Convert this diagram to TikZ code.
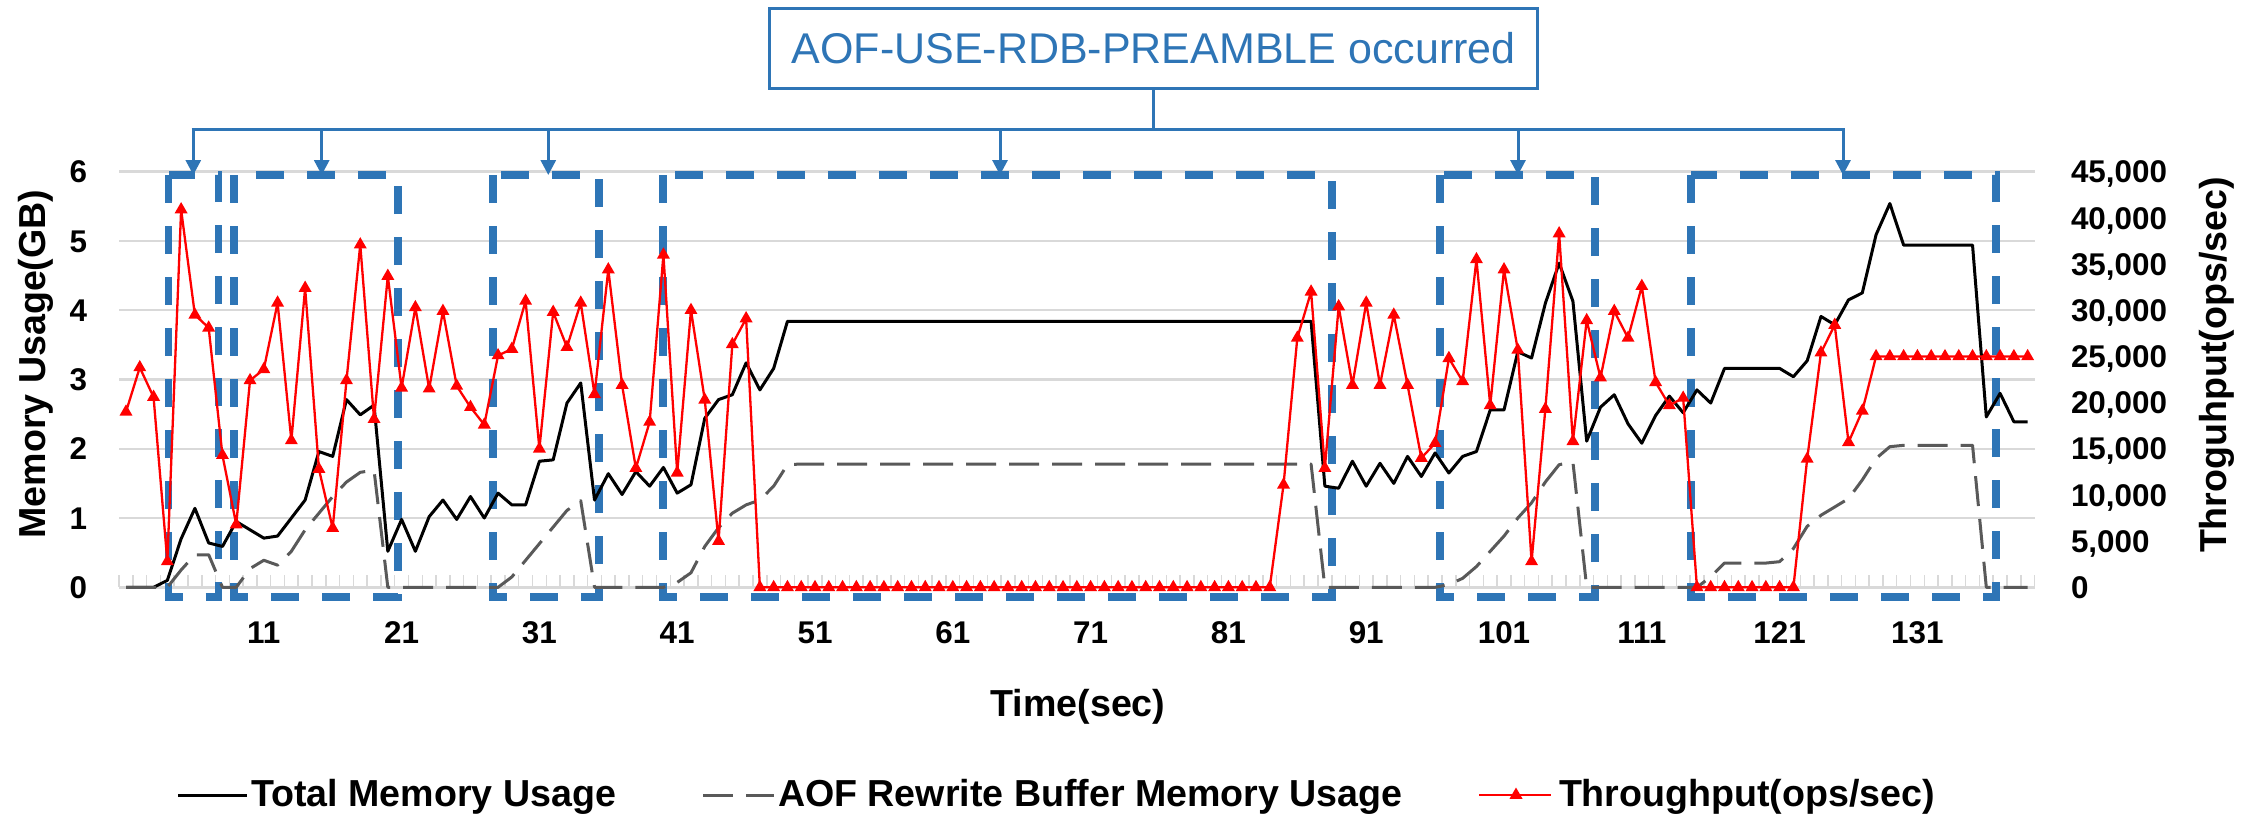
\documentclass[tikz,border=0pt]{standalone}
\usepackage{fontspec}
\setmainfont{Liberation Sans}
\usetikzlibrary{arrows.meta,shapes.geometric}
\definecolor{boxblue}{HTML}{2E75B6}
\definecolor{gridgray}{HTML}{D9D9D9}
\definecolor{aofgray}{HTML}{595959}

% series values, one per sample (139 samples)
% total memory usage in GB, samples 2..139 (sample 1 is 0)
\def\totalrest{0,0,0.1,0.7,1.14,0.64,0.59,0.95,0.83,
0.71,0.74,1.0,1.26,1.96,1.89,2.71,2.49,2.63,0.52,
0.98,0.52,1.02,1.26,0.98,1.31,1.0,1.36,1.19,1.19,
1.82,1.84,2.66,2.95,1.26,1.64,1.34,1.67,1.46,1.73,
1.36,1.48,2.44,2.71,2.78,3.24,2.85,3.16,3.84,3.84,
3.84,3.84,3.84,3.84,3.84,3.84,3.84,3.84,3.84,3.84,
3.84,3.84,3.84,3.84,3.84,3.84,3.84,3.84,3.84,3.84,
3.84,3.84,3.84,3.84,3.84,3.84,3.84,3.84,3.84,3.84,
3.84,3.84,3.84,3.84,3.84,3.84,3.84,1.46,1.43,1.82,
1.46,1.79,1.50,1.89,1.60,1.94,1.65,1.89,1.96,2.56,
2.56,3.40,3.31,4.10,4.68,4.13,2.11,2.60,2.78,2.36,
2.08,2.48,2.76,2.52,2.85,2.66,3.16,3.16,3.16,3.16,
3.16,3.04,3.27,3.91,3.79,4.15,4.25,5.09,5.54,4.94,
4.94,4.94,4.94,4.94,4.94,2.46,2.80,2.39,2.39}
% AOF rewrite buffer usage in GB, samples 2..139 (sample 1 is 0)
\def\aofrest{0,0,0,0.25,0.47,0.47,0,0,0.27,
0.39,0.32,0.52,0.83,1.07,1.31,1.52,1.66,1.69,0,
0,0,0,0,0,0,0,0,0.15,0.39,
0.63,0.87,1.11,1.25,0,0,0,0,0,0,
0.07,0.21,0.59,0.86,1.07,1.19,1.26,1.46,1.77,1.78,
1.78,1.78,1.78,1.78,1.78,1.78,1.78,1.78,1.78,1.78,
1.78,1.78,1.78,1.78,1.78,1.78,1.78,1.78,1.78,1.78,
1.78,1.78,1.78,1.78,1.78,1.78,1.78,1.78,1.78,1.78,
1.78,1.78,1.78,1.78,1.78,1.78,1.78,0,0,0,
0,0,0,0,0,0,0.04,0.13,0.30,0.52,
0.74,1.0,1.22,1.52,1.77,1.81,0,0,0,0,
0,0,0,0,0,0.15,0.35,0.35,0.35,0.35,
0.37,0.56,0.88,1.04,1.16,1.28,1.55,1.86,2.03,2.05,
2.05,2.05,2.05,2.05,2.05,0,0,0,0}
% throughput in thousands of ops/sec, samples 2..139 (sample 1 is 19.0)
\def\thrrest{23.8,20.6,2.8,40.9,29.5,28.1,14.3,6.8,22.4,
23.6,30.8,15.9,32.4,12.8,6.4,22.4,37.1,18.2,33.7,
21.6,30.3,21.5,29.9,21.8,19.5,17.6,25.1,25.8,31.0,
15.0,29.8,26.0,30.8,20.9,34.4,21.9,12.9,17.9,36.0,
12.4,30.0,20.3,5.0,26.3,29.1,0,0,0,0,
0,0,0,0,0,0,0,0,0,0,
0,0,0,0,0,0,0,0,0,0,
0,0,0,0,0,0,0,0,0,0,
0,0,0,0,11.1,27.0,32.0,12.9,30.4,21.9,
30.8,21.9,29.5,21.9,14.0,15.6,24.8,22.3,35.5,19.7,
34.4,25.7,2.8,19.3,38.3,15.8,28.9,22.7,29.9,27.0,
32.6,22.2,19.7,20.5,0,0,0,0,0,0,
0,0,13.9,25.4,28.4,15.7,19.1,25.0,25.0,25.0,
25.0,25.0,25.0,25.0,25.0,25.0,25.0,25.0,25.0}

\begin{document}
\begin{tikzpicture}[x=1pt,y=-1pt,
  every node/.style={inner sep=0pt, outer sep=0pt},
  ticklab/.style={font=\fontsize{31.4}{34}\selectfont\bfseries},
  axtitle/.style={font=\fontsize{37.6}{40}\selectfont\bfseries},
  gridrule/.style={gridgray, line width=2.5pt},
  minortick/.style={gridgray, line width=1.5pt},
  eventbox/.style={draw=boxblue, line width=7.5pt, dash pattern=on 28pt off 23pt},
  totalline/.style={black, line width=3pt, line join=round},
  aofline/.style={aofgray, line width=3pt, dash pattern=on 30pt off 13pt, line join=round},
  thrline/.style={red, line width=2.3pt, line join=round},
  trimark/.style={regular polygon, regular polygon sides=3, fill=red, minimum size=15pt, inner sep=0pt},
  callout/.style={boxblue, line width=3.5pt},
  droparrow/.style={boxblue, line width=3pt, -{Triangle[width=15pt,length=15pt]}},
]
\useasboundingbox (0,0) rectangle (2259,815);

% horizontal gridlines (0..6 GB)
\foreach \g in {0,...,6}
  \draw[gridrule] (119.1,{587.3-69.27*\g}) -- (2034.5,{587.3-69.27*\g});
% category tick marks along the time axis
\foreach \k in {0,...,139}
  \draw[minortick] ({119.1+13.78*\k},575) -- ({119.1+13.78*\k},587.3);

% dashed frames around the rewrite intervals
\draw[eventbox] (168.5,175) rectangle (218.5,597);
\draw[eventbox] (234,175) rectangle (398,597);
\draw[eventbox] (493,175) rectangle (599,597);
\draw[eventbox] (663,175) rectangle (1332,597);
\draw[eventbox] (1440,175) rectangle (1595,597);
\draw[eventbox] (1691,175) rectangle (1996,597);

% memory series on the left axis
\begin{scope}[shift={(112.22pt,-587.3pt)}, x=13.78pt, y=69.27pt]
  \draw[totalline] (1,0) \foreach \v [count=\i from 2] in \totalrest { -- (\i,\v) };
  \draw[aofline] (1,0) \foreach \v [count=\i from 2] in \aofrest { -- (\i,\v) };
\end{scope}

% throughput series on the right axis (45,000 ops/sec at the top line)
\begin{scope}[shift={(112.22pt,-587.3pt)}, x=13.78pt, y=9.236pt]
  \draw[thrline] (1,19.0) \foreach \v [count=\i from 2] in \thrrest { -- (\i,\v) };
  \node[trimark] (m1) at (1,19.0) {};
  \foreach \v [count=\i from 2] in \thrrest
    \node[trimark] (m\i) at (\i,\v) {};
\end{scope}

% left axis labels
\foreach \g in {0,...,6}
  \node[ticklab, anchor=base east] (yl\g) at (87,{587.3-69.27*\g+11.2}) {\g};
% right axis labels
\foreach \g/\t in {0/0,1/{5,000},2/{10,000},3/{15,000},4/{20,000},5/{25,000},6/{30,000},7/{35,000},8/{40,000},9/{45,000}}
  \node[ticklab, anchor=base west] (yr\g) at (2071,{587.3-46.18*\g+11.2}) {\t};
% time axis labels
\foreach \c in {11,21,...,131}
  \node[ticklab, anchor=base] (xl\c) at ({112.22+13.78*\c},643.3) {\c};

% axis titles
\node[axtitle, rotate=90, anchor=base] (ytitleL) at (45,364) {Memory Usage(GB)};
\node[axtitle, rotate=90, anchor=base] (ytitleR) at (2226,365) {Throguhput(ops/sec)};
\node[axtitle, anchor=base] (xtitle) at (1078,716) {Time(sec)};

% event callout
\node[draw=boxblue, line width=3.2pt, fill=white, minimum width=768pt, minimum height=80pt,
      text=boxblue, font=\fontsize{43}{46}\selectfont] (event) at (1153.7,48.3) {AOF-USE-RDB-PREAMBLE occurred};
\coordinate (hub) at (1153.7,129.3);
\coordinate (busL) at (191.6,129.3);
\coordinate (busR) at (1844.7,129.3);
\draw[callout] (event.south) -- (hub);
\draw[callout] (busL) -- (busR);
\foreach \n/\x in {1/193.3,2/321.7,3/548.3,4/1000,5/1518,6/1843}{
  \coordinate (d\n) at (\x,129.3);
  \coordinate (t\n) at (\x,175);
  \draw[droparrow] (d\n) -- (t\n);
}

% legend
\draw[totalline] (178,795) -- (247,795);
\node[axtitle, anchor=base west] (lg1) at (251,806) {Total Memory Usage};
\draw[aofline] (703,795) -- (774,795);
\node[axtitle, anchor=base west] (lg2) at (778,806) {AOF Rewrite Buffer Memory Usage};
\draw[thrline] (1479,795) -- (1551,795);
\node[trimark] (lgm) at (1516,795) {};
\node[axtitle, anchor=base west] (lg3) at (1559,806) {Throughput(ops/sec)};
\end{tikzpicture}
\end{document}
